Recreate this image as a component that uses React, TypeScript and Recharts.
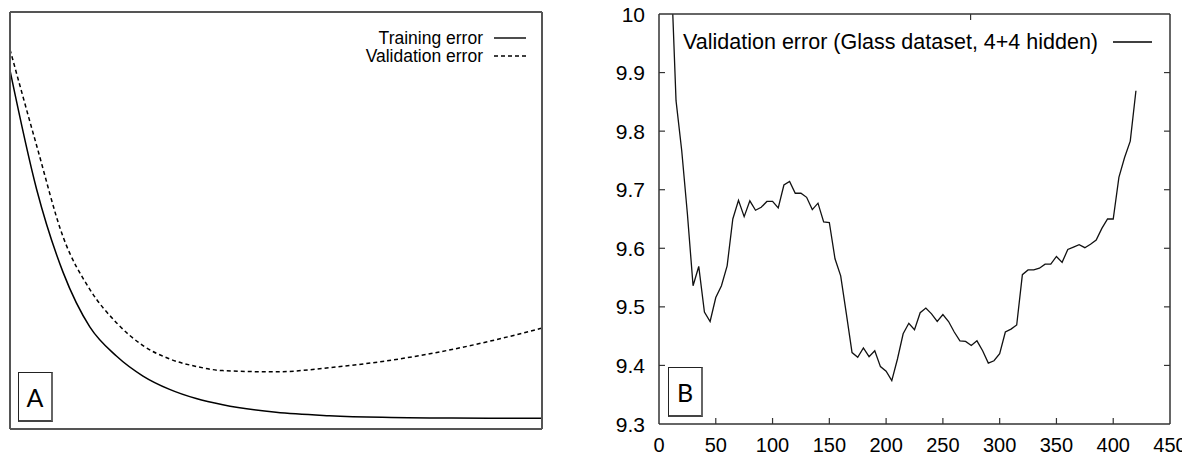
import React from 'react';
import { LineChart, Line, XAxis, YAxis, Legend } from 'recharts';

const FONT = '"Liberation Sans", Arial, Helvetica, sans-serif';
const AXIS = '#333';

// Panel A: schematic curves, no scale shown
const epochsA = [0, 5, 10, 15, 20, 25, 30, 35, 40, 50, 60, 70, 80, 90, 100];
const trainingA = [86, 57.5, 37.5, 24.5, 17.5, 12.7, 9.5, 7.3, 5.8, 4.0, 3.2, 2.8, 2.65, 2.6, 2.6];
const validationA = [91, 68, 46, 33.5, 25.5, 20, 16.8, 15, 14, 13.7, 14.7, 16.2, 18.3, 21, 24.2];

// Panel B: validation error on the Glass dataset
const stepsB = [
  10, 15, 20, 25, 30, 35, 40, 45, 50, 55, 60, 65, 70, 75, 80, 85, 90, 95, 100,
  105, 110, 115, 120, 125, 130, 135, 140, 145, 150, 155, 160, 165, 170, 175, 180,
  185, 190, 195, 200, 205, 210, 215, 220, 225, 230, 235, 240, 245, 250, 255, 260,
  265, 270, 275, 280, 285, 290, 295, 300, 305, 310, 315, 320, 325, 330, 335, 340,
  345, 350, 355, 360, 365, 370, 375, 380, 385, 390, 395, 400, 405, 410, 415, 420,
];
const validationB = [
  10.11, 9.852, 9.767, 9.659, 9.536, 9.569, 9.491, 9.475, 9.516, 9.536, 9.57, 9.65,
  9.682, 9.654, 9.681, 9.665, 9.67, 9.68, 9.68, 9.669, 9.708, 9.714, 9.694, 9.694,
  9.687, 9.666, 9.677, 9.645, 9.644, 9.582, 9.553, 9.488, 9.422, 9.414, 9.43, 9.415,
  9.425, 9.398, 9.39, 9.374, 9.411, 9.454, 9.472, 9.461, 9.49, 9.498, 9.488, 9.475,
  9.487, 9.475, 9.457, 9.442, 9.441, 9.434, 9.442, 9.425, 9.404, 9.408, 9.42, 9.457,
  9.462, 9.469, 9.555, 9.563, 9.563, 9.566, 9.573, 9.573, 9.586, 9.576, 9.598, 9.602,
  9.606, 9.601, 9.607, 9.614, 9.634, 9.65, 9.65, 9.721, 9.755, 9.783, 9.869,
];
const xTicksB = [0, 50, 100, 150, 200, 250, 300, 350, 400, 450];
const yTicksB = [9.3, 9.4, 9.5, 9.6, 9.7, 9.8, 9.9, 10];

const dataA = epochsA.map((x, i) => ({ x, training: trainingA[i], validation: validationA[i] }));
const dataB = stepsB.map((x, i) => ({ x, error: validationB[i] }));

const dashA: Record<string, string | undefined> = { training: undefined, validation: '4 3' };

const inX = (v: number) => v > 0.5 && v < 449.5;
const inY = (v: number) => v > 9.305 && v < 9.995;
const TICK = 6;

const BottomTick = (props: any) => {
  const x = Number(props.x);
  const y = Number(props.y);
  const v = Number(props.payload.value);
  return (
    <g>
      {inX(v) && <path d={`M${x},${y - 17}V${y - 17 - TICK}`} stroke={AXIS} strokeWidth={1.2} fill="none" />}
      <text x={x} y={y} dy={11} textAnchor="middle" fontFamily={FONT} fontSize={20} fill="#000">
        {v}
      </text>
    </g>
  );
};

const LeftTick = (props: any) => {
  const x = Number(props.x);
  const y = Number(props.y);
  const v = Number(props.payload.value);
  return (
    <g>
      {inY(v) && <path d={`M${x + 14},${y}H${x + 14 + TICK}`} stroke={AXIS} strokeWidth={1.2} fill="none" />}
      <text x={x} y={y} dy="0.36em" textAnchor="end" fontFamily={FONT} fontSize={21} fill="#000">
        {v >= 9.999 ? '10' : v.toFixed(1)}
      </text>
    </g>
  );
};

const TopTick = (props: any) => {
  const x = Number(props.x);
  const y = Number(props.y);
  const v = Number(props.payload.value);
  return inX(v) ? <path d={`M${x},${y}V${y + TICK}`} stroke={AXIS} strokeWidth={1.2} fill="none" /> : <g />;
};

const RightTick = (props: any) => {
  const x = Number(props.x);
  const y = Number(props.y);
  const v = Number(props.payload.value);
  return inY(v) ? <path d={`M${x},${y}H${x - TICK}`} stroke={AXIS} strokeWidth={1.2} fill="none" /> : <g />;
};

// legend rows: text right-aligned up to textRight, then a line sample
const makeLegend = (textRight: number, gap: number, sample: number, fontSize: number, rowH: number) =>
  ({ payload }: any) => (
    <div style={{ fontFamily: FONT, fontSize, color: '#000' }}>
      {(payload || []).map((p: any) => (
        <div key={p.dataKey} style={{ display: 'flex', alignItems: 'center', height: rowH }}>
          <span style={{ width: textRight, flex: 'none', textAlign: 'right', whiteSpace: 'nowrap' }}>{p.value}</span>
          <svg width={sample} height={4} style={{ marginLeft: gap, flex: 'none' }}>
            <line x1={0} y1={2} x2={sample} y2={2} stroke="#000" strokeWidth={1.4} strokeDasharray={dashA[p.dataKey]} />
          </svg>
        </div>
      ))}
    </div>
  );

const LegendA = makeLegend(483, 11, 32, 17.5, 18);
const LegendB = makeLegend(508, 15, 39, 21.5, 24);

const boxStyle: React.CSSProperties = {
  position: 'absolute',
  boxSizing: 'border-box',
  border: '1.5px solid #222',
  borderRight: '2px solid #666',
  borderBottom: '2px solid #444',
  background: '#fff',
  display: 'flex',
  alignItems: 'center',
  justifyContent: 'center',
  fontFamily: 'Lato, "Open Sans", sans-serif',
  fontSize: 25,
  color: '#000',
};

export default function App() {
  return (
    <div style={{ position: 'absolute', left: 0, top: 0, width: 1182, height: 456, background: '#fff', overflow: 'hidden' }}>
      {/* Panel A */}
      <div style={{ position: 'absolute', left: 0, top: 0 }}>
        <LineChart width={560} height={456} data={dataA} margin={{ top: 11, right: 17, bottom: 26, left: 9 }}>
          <XAxis xAxisId="b" dataKey="x" type="number" domain={[0, 100]} height={1} tick={false} tickLine={false} stroke="#555" strokeWidth={2} />
          <XAxis xAxisId="t" orientation="top" type="number" domain={[0, 100]} height={1} tick={false} tickLine={false} stroke="#555" strokeWidth={2} />
          <YAxis yAxisId="l" type="number" domain={[0, 100]} width={1} tick={false} tickLine={false} stroke="#555" strokeWidth={2} />
          <YAxis yAxisId="r" orientation="right" type="number" domain={[0, 100]} width={1} tick={false} tickLine={false} stroke="#555" strokeWidth={2} />
          <Line
            xAxisId="b"
            yAxisId="l"
            type="monotone"
            dataKey="training"
            name="Training error"
            stroke="#000"
            strokeWidth={1.5}
            dot={false}
            isAnimationActive={false}
          />
          <Line
            xAxisId="b"
            yAxisId="l"
            type="monotone"
            dataKey="validation"
            name="Validation error"
            stroke="#000"
            strokeWidth={1.5}
            strokeDasharray="4 3"
            dot={false}
            isAnimationActive={false}
          />
          <Legend
            layout="horizontal"
            verticalAlign="middle"
            align="center"
            content={LegendA}
            wrapperStyle={{ left: 0, top: 29, width: 540 }}
          />
        </LineChart>
      </div>
      <div style={{ ...boxStyle, left: 18, top: 372, width: 35, height: 50 }}>A</div>

      {/* Panel B */}
      <div style={{ position: 'absolute', left: 590, top: 0 }}>
        <LineChart width={592} height={456} data={dataB} margin={{ top: 13, right: 11, bottom: 0, left: 9 }}>
          <XAxis
            xAxisId="b"
            dataKey="x"
            type="number"
            domain={[0, 450]}
            ticks={xTicksB}
            allowDataOverflow
            height={32}
            tickSize={0}
            tickMargin={17}
            tickLine={false}
            stroke={AXIS}
            strokeWidth={1.5}
            tick={BottomTick}
            interval={0}
          />
          <XAxis
            xAxisId="t"
            orientation="top"
            type="number"
            domain={[0, 450]}
            ticks={xTicksB}
            allowDataOverflow
            height={1}
            tickSize={0}
            tickMargin={0}
            tickLine={false}
            stroke={AXIS}
            strokeWidth={1.5}
            tick={TopTick}
            interval={0}
          />
          <YAxis
            yAxisId="l"
            type="number"
            domain={[9.3, 10]}
            ticks={yTicksB}
            allowDataOverflow
            width={60}
            tickSize={0}
            tickMargin={14}
            tickLine={false}
            stroke={AXIS}
            strokeWidth={1.5}
            tick={LeftTick}
            interval={0}
          />
          <YAxis
            yAxisId="r"
            orientation="right"
            type="number"
            domain={[9.3, 10]}
            ticks={yTicksB}
            allowDataOverflow
            width={1}
            tickSize={0}
            tickMargin={0}
            tickLine={false}
            stroke={AXIS}
            strokeWidth={1.5}
            tick={RightTick}
            interval={0}
          />
          <Line
            xAxisId="b"
            yAxisId="l"
            type="linear"
            dataKey="error"
            name="Validation error (Glass dataset, 4+4 hidden)"
            stroke="#111"
            strokeWidth={1.3}
            dot={false}
            isAnimationActive={false}
          />
          <Legend
            layout="horizontal"
            verticalAlign="middle"
            align="center"
            content={LegendB}
            wrapperStyle={{ left: 0, top: 30, width: 570 }}
          />
        </LineChart>
      </div>
      <div style={{ ...boxStyle, left: 668, top: 367, width: 35, height: 50 }}>B</div>
    </div>
  );
}
